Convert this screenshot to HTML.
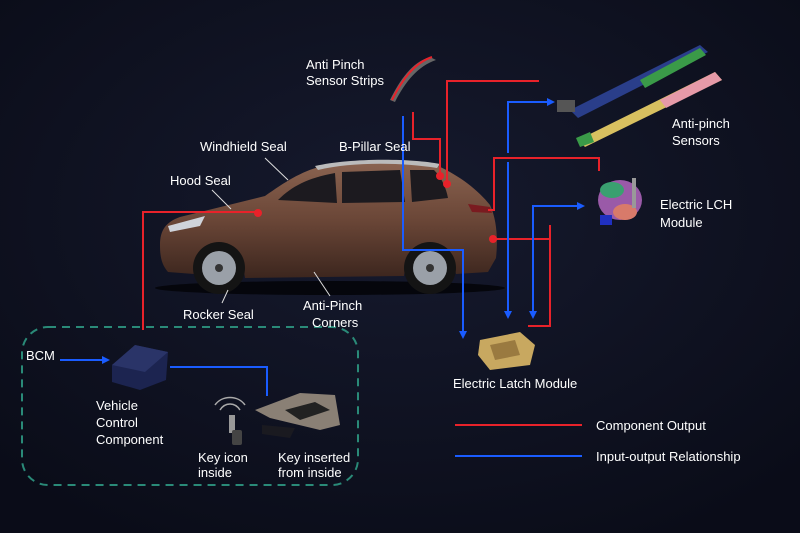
<!DOCTYPE html>
<html><head><meta charset="utf-8"><style>
body{margin:0;background:#0d1020;}
svg{display:block}
text{font-family:"Liberation Sans",sans-serif;fill:#fff;font-size:13px}
</style></head><body>
<svg width="800" height="533" viewBox="0 0 800 533" xmlns="http://www.w3.org/2000/svg">
<defs>
<radialGradient id="bg" cx="50%" cy="40%" r="70%"><stop offset="0" stop-color="#161a2e"/><stop offset="1" stop-color="#0a0c18"/></radialGradient>
<linearGradient id="body" x1="0" y1="0" x2="0" y2="1"><stop offset="0" stop-color="#8a6350"/><stop offset="0.5" stop-color="#6a4637"/><stop offset="1" stop-color="#3c261e"/></linearGradient>
<marker id="ab" markerWidth="8" markerHeight="8" refX="6" refY="4" orient="auto" markerUnits="userSpaceOnUse"><path d="M0,0 L8,4 L0,8 Z" fill="#1a5cff"/></marker>
</defs>
<rect width="800" height="533" fill="url(#bg)"/>
<ellipse cx="330" cy="288" rx="175" ry="7" fill="#05060c"/>
<!-- car body -->
<path d="M160,245 C160,230 166,222 180,217 L265,196 C285,182 300,172 322,166 C360,162 410,162 438,166 C460,176 478,190 490,205 C497,220 498,240 496,258 L488,272 L456,274 C452,245 408,245 404,276 L245,278 C242,246 198,246 194,274 L168,272 C161,264 160,255 160,245 Z" fill="url(#body)"/>
<path d="M278,200 C292,186 308,178 335,173 L337,203 Z" fill="#1c1a1f"/>
<path d="M342,172 L400,170 L405,202 L342,203 Z" fill="#1c1a1f"/>
<path d="M410,170 L434,170 C442,178 446,188 448,198 L412,202 Z" fill="#1c1a1f"/>
<path d="M315,166 C350,158 410,158 440,164 L437,168 C400,162 350,162 318,170 Z" fill="#bbb"/>
<path d="M168,226 L205,216 L200,226 L170,232 Z" fill="#cfd3da"/>
<path d="M468,204 L490,207 L492,213 L472,212 Z" fill="#7a1b20"/>
<circle cx="219" cy="268" r="26" fill="#141414"/><circle cx="219" cy="268" r="17" fill="#9aa0a8"/><circle cx="219" cy="268" r="4" fill="#333"/>
<circle cx="430" cy="268" r="26" fill="#141414"/><circle cx="430" cy="268" r="17" fill="#9aa0a8"/><circle cx="430" cy="268" r="4" fill="#333"/>
<g stroke="#ddd" stroke-width="1"><line x1="265" y1="158" x2="288" y2="180"/><line x1="212" y1="190" x2="231" y2="209"/><line x1="228" y1="290" x2="222" y2="303"/><line x1="314" y1="272" x2="330" y2="296"/></g>
<g stroke="#e8222a" stroke-width="2" fill="none">
<polyline points="143,330 143,212 258,212"/>
<polyline points="413,112 413,139 440,139 440,176"/>
<polyline points="539,81 447,81 447,184"/>
<polyline points="488,210 494,210 494,158 599,158 599,171"/>
<polyline points="493,239 550,239"/>
<polyline points="550,225 550,326 528,326"/>
<line x1="455" y1="425" x2="582" y2="425"/>
</g>
<g fill="#e8222a"><circle cx="258" cy="213" r="4"/><circle cx="440" cy="176" r="4"/><circle cx="447" cy="184" r="4"/><circle cx="493" cy="239" r="4"/></g>
<g stroke="#1a5cff" stroke-width="2" fill="none">
<polyline points="403,116 403,250 463,250 463,337" marker-end="url(#ab)"/>
<polyline points="508,153 508,102 553,102" marker-end="url(#ab)"/>
<polyline points="508,162 508,317" marker-end="url(#ab)"/>
<polyline points="533,317 533,206 583,206" marker-end="url(#ab)"/>
<line x1="533" y1="206" x2="533" y2="317" marker-end="url(#ab)"/>
<line x1="60" y1="360" x2="108" y2="360" marker-end="url(#ab)"/>
<polyline points="170,367 267,367 267,396"/>
<line x1="455" y1="456" x2="582" y2="456"/>
</g>
<rect x="22" y="327" width="336" height="158" rx="26" fill="none" stroke="#2a8a78" stroke-width="2" stroke-dasharray="8,6"/>
<path d="M390,100 C400,80 412,62 430,57 L436,60 C418,66 405,82 395,102 Z" fill="#666"/>
<path d="M392,100 C402,80 414,63 432,57" stroke="#e8222a" stroke-width="2" fill="none"/>
<path d="M570,110 L700,45 L708,52 L578,118 Z" fill="#2a3e8a"/>
<path d="M640,80 L700,48 L706,55 L645,88 Z" fill="#3a9a48"/>
<rect x="557" y="100" width="18" height="12" fill="#555"/>
<path d="M578,140 L715,72 L722,80 L585,147 Z" fill="#d8c060"/>
<path d="M660,100 L715,72 L722,80 L666,108 Z" fill="#e69aa8"/>
<path d="M576,138 L590,132 L594,142 L580,147 Z" fill="#3a9a48"/>
<g><ellipse cx="620" cy="200" rx="22" ry="20" fill="#9a5aa8"/><ellipse cx="612" cy="190" rx="12" ry="8" fill="#3aa070"/><ellipse cx="625" cy="212" rx="12" ry="8" fill="#d87a6a"/><rect x="600" y="215" width="12" height="10" fill="#2030c0"/><rect x="632" y="178" width="4" height="30" fill="#999"/></g>
<path d="M480,340 L520,332 L535,345 L530,365 L490,370 L478,355 Z" fill="#c8a860"/>
<path d="M490,345 L515,340 L520,355 L495,360 Z" fill="#9a7a40"/>
<path d="M112,365 L135,345 L168,352 L166,380 L140,390 L112,382 Z" fill="#1c2450"/>
<path d="M112,365 L135,345 L168,352 L145,372 Z" fill="#2a3468"/>
<path d="M220,410 C225,402 235,402 240,410" stroke="#aaa" fill="none" stroke-width="1.5"/>
<path d="M215,405 C222,395 238,395 245,405" stroke="#aaa" fill="none" stroke-width="1.5"/>
<rect x="229" y="415" width="6" height="18" fill="#999"/><rect x="232" y="430" width="10" height="15" rx="2" fill="#444"/>
<path d="M255,410 L300,393 L335,395 L340,425 L320,430 L270,418 Z" fill="#8a8075"/>
<path d="M285,410 L315,402 L330,410 L300,420 Z" fill="#222"/>
<path d="M262,425 L295,428 L290,438 L262,434 Z" fill="#1a1a20"/>
<text x="306" y="69">Anti Pinch</text><text x="306" y="85">Sensor Strips</text>
<text x="200" y="151">Windhield Seal</text>
<text x="339" y="151">B-Pillar Seal</text>
<text x="170" y="185">Hood Seal</text>
<text x="183" y="319">Rocker Seal</text>
<text x="303" y="310">Anti-Pinch</text><text x="312" y="327">Corners</text>
<text x="26" y="360">BCM</text>
<text x="96" y="410">Vehicle</text><text x="96" y="427">Control</text><text x="96" y="444">Component</text>
<text x="198" y="462" font-size="12">Key icon</text><text x="198" y="477" font-size="12">inside</text>
<text x="278" y="462" font-size="12">Key inserted</text><text x="278" y="477" font-size="12">from inside</text>
<text x="672" y="128">Anti-pinch</text><text x="672" y="145">Sensors</text>
<text x="660" y="209">Electric LCH</text><text x="660" y="227">Module</text>
<text x="453" y="388">Electric Latch Module</text>
<text x="596" y="430">Component Output</text>
<text x="596" y="461">Input-output Relationship</text>
</svg>
</body></html>
